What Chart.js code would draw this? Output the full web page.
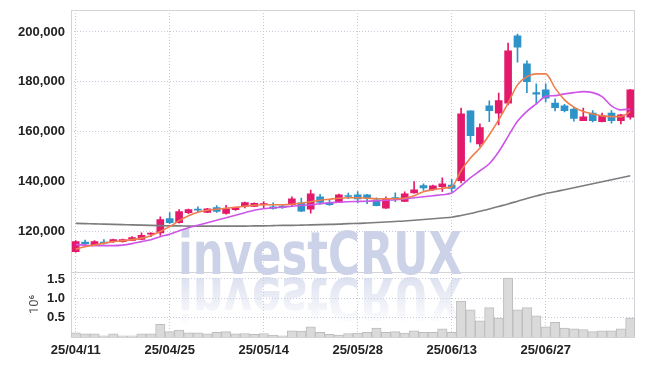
<!DOCTYPE html>
<html lang="en">
<head>
  <meta charset="UTF-8">
  <title>Candlestick with volume</title>
  <script src="https://cdn.jsdelivr.net/npm/chart.js"></script>
  <style>
    body { margin: 0; background: #fff; }
    #wrap { width: 645px; height: 366px; }
  </style>
</head>
<body>
  <div id="wrap"><canvas id="chart" width="645" height="366"></canvas></div>
  <script>
    // trading days
    const labels = [
      '25/04/11', '25/04/14', '25/04/15', '25/04/16', '25/04/17', '25/04/18',
      '25/04/21', '25/04/22', '25/04/23', '25/04/24', '25/04/25',
      '25/04/28', '25/04/29', '25/04/30', '25/05/02', '25/05/07', '25/05/08', '25/05/09',
      '25/05/12', '25/05/13', '25/05/14', '25/05/15', '25/05/16',
      '25/05/19', '25/05/20', '25/05/21', '25/05/22', '25/05/23',
      '25/05/26', '25/05/27', '25/05/28', '25/05/29', '25/05/30',
      '25/06/02', '25/06/04', '25/06/05',
      '25/06/09', '25/06/10', '25/06/11', '25/06/12', '25/06/13',
      '25/06/16', '25/06/17', '25/06/18', '25/06/19', '25/06/20',
      '25/06/23', '25/06/24', '25/06/25', '25/06/26', '25/06/27',
      '25/06/30', '25/07/01', '25/07/02', '25/07/03', '25/07/04',
      '25/07/07', '25/07/08', '25/07/09', '25/07/10'
    ];

    const open = [
      112000, 115800, 114800, 115800, 116000, 116000, 116500, 116900, 119000, 119500,
      125200, 123600, 127600, 128900, 127700, 129600, 127300, 128800, 130100, 130100,
      130800, 129900, 130200, 130800, 131600, 129000, 134000, 131500, 131700, 134500,
      134800, 134800, 132800, 129400, 133600, 132100, 135500, 138500, 136800, 138000,
      138700, 140400, 168400, 155200, 170400, 167500, 171500, 198500, 187200, 175700,
      176800, 171500, 170400, 169100, 164500, 167500, 164100, 167500, 164500, 165900
    ];
    const high = [
      116400, 116600, 116400, 116800, 117000, 117000, 118000, 119500, 119500, 125900,
      127600, 128800, 129000, 129900, 129300, 130400, 130500, 129800, 131900, 131600,
      132100, 131500, 130900, 134000, 133500, 136700, 135000, 133000, 135100, 135500,
      136100, 135000, 133600, 134000, 135600, 136000, 140100, 139200, 138700, 141600,
      141000, 169500, 168400, 163200, 172400, 175500, 195500, 199200, 188400, 179200,
      179200, 173200, 171000, 169900, 169500, 168500, 167500, 168500, 167000, 177000
    ];
    const low = [
      111800, 114800, 114400, 115000, 115600, 115800, 116400, 116800, 118000, 118500,
      123200, 123400, 127200, 128000, 127600, 127700, 127000, 128500, 129500, 130000,
      129600, 129000, 129300, 130000, 128000, 127400, 131000, 130500, 131600, 133200,
      131500, 131200, 130300, 129300, 132000, 132000, 135400, 136500, 136500, 136100,
      136000, 139500, 155900, 154100, 164100, 162800, 170800, 187900, 175700, 171200,
      172000, 168400, 168000, 164300, 164500, 164000, 164000, 163500, 163200, 165100
    ];
    const close = [
      116000, 115200, 116000, 115400, 116800, 116800, 117600, 118500, 119400, 124800,
      123600, 128000, 128800, 128600, 129100, 128100, 129100, 129600, 131700, 131300,
      131200, 129300, 129700, 133200, 128200, 135200, 131700, 130800, 134800, 134100,
      133100, 133500, 130400, 133100, 133300, 135200, 136800, 137500, 138400, 139200,
      137300, 167200, 158500, 161700, 168500, 172500, 192400, 193900, 180100, 175100,
      173500, 169700, 168500, 165400, 166000, 164500, 166500, 164500, 166800, 176800
    ];
    const volume = [
      110000, 80000, 80000, 30000, 80000, 30000, 30000, 80000, 80000, 330000,
      140000, 180000, 110000, 110000, 85000, 120000, 140000, 80000, 90000, 70000,
      90000, 50000, 30000, 160000, 150000, 260000, 120000, 70000, 50000, 90000,
      100000, 120000, 230000, 120000, 140000, 100000, 160000, 120000, 120000, 210000,
      120000, 930000, 700000, 420000, 760000, 490000, 1520000, 700000, 760000, 550000,
      260000, 380000, 230000, 210000, 190000, 140000, 160000, 160000, 210000, 490000
    ];

    // moving averages
    const maShort = [
      113000, 114000, 114600, 115400, 116000, 116400, 116800, 117400, 118400, 120100,
      122000, 124400, 126400, 127800, 128600, 129000, 129400, 129800, 130200, 130600,
      130800, 130800, 130800, 131000, 131400, 132000, 132600, 133000, 133400, 133600,
      133600, 133400, 133200, 133200, 133200, 133400, 134400, 136000, 136800, 137400,
      138000, 144400, 149500, 153500, 158800, 164800, 171500, 178800, 182100, 183200,
      183200, 177500, 172800, 169900, 168100, 167100, 166400, 166100, 166100, 168100
    ];
    const maMid = [
      114800, 114600, 114400, 114400, 114400, 114600, 115200, 116000, 116800, 118000,
      119000, 120400, 121600, 122600, 123600, 124600, 125600, 126600, 127600, 128600,
      129200, 129600, 129800, 130200, 130500, 130800, 131200, 131600, 131800, 132000,
      132100, 132200, 132400, 132600, 132800, 133100, 133600, 134000, 134400, 134800,
      135500, 138400, 141600, 144400, 147200, 152000, 158200, 164200, 168200, 171200,
      174200, 174500, 175200, 175700, 176100, 175700, 174100, 170400, 168800, 169100
    ];
    const maLong = [
      123300, 123200, 123100, 123000, 122900, 122800, 122700, 122600, 122500, 122400,
      122300, 122300, 122200, 122200, 122200, 122200, 122200, 122200, 122200, 122300,
      122300, 122400, 122500, 122500, 122600, 122700, 122800, 122900, 123000, 123200,
      123300, 123500, 123700, 123900, 124100, 124300, 124600, 124900, 125200, 125500,
      125800, 126500, 127300, 128200, 129100, 130100, 131100, 132200, 133300, 134300,
      135300, 136000, 136800, 137600, 138400, 139200, 140000, 140800, 141600, 142400
    ];

    const tickLabels = ['25/04/11', '25/04/25', '25/05/14', '25/05/28', '25/06/13', '25/06/27'];
    const priceTicks = [120000, 140000, 160000, 180000, 200000];
    const volumeTicks = [500000, 1000000, 1500000];

    const UP = '#e3196b';
    const DOWN = '#2e93c9';
    const GRID = '#c6c9dc';
    const candleColors = open.map((o, i) => close[i] >= o ? UP : DOWN);

    // frame around both panels plus the divider
    const framePlugin = {
      id: 'frame',
      beforeDatasetsDraw(chart) {
        const { ctx, chartArea: a } = chart;
        const split = chart.scales.y.bottom;
        ctx.save();
        ctx.strokeStyle = '#d4d4d8';
        ctx.lineWidth = 1;
        ctx.strokeRect(a.left + 0.5, a.top + 0.5, a.right - a.left - 1, a.bottom - a.top);
        ctx.beginPath();
        ctx.moveTo(a.left, Math.round(split) + 0.5);
        ctx.lineTo(a.right, Math.round(split) + 0.5);
        ctx.stroke();
        ctx.restore();
      }
    };

    // investCRUX watermark and its reflection
    const watermark = {
      id: 'watermark',
      beforeDatasetsDraw(chart) {
        const ctx = chart.ctx;
        const txt = 'investCRUX';
        ctx.save();
        ctx.font = 'bold 58px "DejaVu Sans", sans-serif';
        const sx = 284 / ctx.measureText(txt).width;
        ctx.textBaseline = 'alphabetic';
        ctx.save();
        ctx.translate(178, 274);
        ctx.scale(sx, 1);
        ctx.fillStyle = '#ccd2e8';
        ctx.fillText(txt, 0, 0);
        ctx.restore();
        ctx.translate(178, 276);
        ctx.scale(sx, -1);
        const g = ctx.createLinearGradient(0, -2, 0, -46);
        g.addColorStop(0, 'rgba(204,210,232,0.65)');
        g.addColorStop(1, 'rgba(204,210,232,0.05)');
        ctx.fillStyle = g;
        ctx.fillText(txt, 0, -2);
        ctx.restore();
      }
    };

    const tickFont = { family: '"Liberation Sans", Arial, sans-serif', size: 13, weight: 'bold' };

    // keep the plot box where the layout padding puts it
    const fixWidth = (s) => { s.width = 71; s.paddingTop = 0; s.paddingBottom = 0; };

    new Chart(document.getElementById('chart'), {
      type: 'bar',
      data: {
        labels: labels,
        datasets: [
          { type: 'line', label: 'MA short', data: maShort, yAxisID: 'y', borderColor: '#f07d4c', borderWidth: 1.6, pointRadius: 0, cubicInterpolationMode: 'monotone', order: 0 },
          { type: 'line', label: 'MA mid', data: maMid, yAxisID: 'y', borderColor: '#cd55e8', borderWidth: 1.6, pointRadius: 0, cubicInterpolationMode: 'monotone', order: 0 },
          { type: 'line', label: 'MA long', data: maLong, yAxisID: 'y', borderColor: '#7c7c7c', borderWidth: 1.6, pointRadius: 0, cubicInterpolationMode: 'monotone', order: 0 },
          { label: 'body', data: open.map((o, i) => [o, close[i]]), yAxisID: 'y', backgroundColor: candleColors, barThickness: 7, grouped: false, minBarLength: 1, order: 1 },
          { label: 'wick', data: low.map((l, i) => [l, high[i]]), yAxisID: 'y', backgroundColor: candleColors, barThickness: 1, grouped: false, order: 2 },
          { label: 'volume', data: volume, yAxisID: 'yv', backgroundColor: '#dadada', borderColor: '#bdbdbd', borderWidth: 1, barPercentage: 1, categoryPercentage: 1, grouped: false, order: 3 }
        ]
      },
      options: {
        responsive: false,
        animation: false,
        layout: { padding: { left: 0, right: 10, top: 10, bottom: 0 } },
        plugins: { legend: { display: false }, tooltip: { enabled: false } },
        scales: {
          x: {
            type: 'category',
            offset: true,
            grid: {
              offset: false,
              drawTicks: false,
              color: (c) => (c.tick && tickLabels.includes(c.tick.label)) ? GRID : 'rgba(0,0,0,0)'
            },
            border: { display: false, dash: [1, 2] },
            ticks: {
              autoSkip: false,
              maxRotation: 0,
              padding: 6,
              color: '#222',
              font: tickFont,
              callback: (v, i) => tickLabels.includes(labels[i]) ? labels[i] : ''
            },
            afterFit: (s) => { s.height = 29; s.paddingLeft = 0; s.paddingRight = 0; }
          },
          yv: {
            position: 'left',
            stack: 'panels',
            stackWeight: 1,
            weight: 0,
            min: 0,
            max: 1690000,
            grid: { color: GRID, drawTicks: false },
            border: { display: false, dash: [1, 2] },
            ticks: {
              autoSkip: false,
              padding: 6,
              color: '#222',
              font: tickFont,
              callback: (v) => (v / 1e6).toFixed(1)
            },
            afterBuildTicks: (s) => { s.ticks = volumeTicks.map(v => ({ value: v })); },
            title: { display: true, text: '10\u2076', color: '#555', font: { family: 'Roboto, sans-serif', size: 13 }, padding: { top: 27, bottom: 0 } },
            afterFit: fixWidth
          },
          y: {
            position: 'left',
            stack: 'panels',
            stackWeight: 4,
            weight: 1,
            min: 104000,
            max: 208800,
            grid: { color: GRID, drawTicks: false },
            border: { display: false, dash: [1, 2] },
            ticks: {
              autoSkip: false,
              padding: 6,
              color: '#222',
              font: tickFont,
              callback: (v) => v.toLocaleString('en-US')
            },
            afterBuildTicks: (s) => { s.ticks = priceTicks.map(v => ({ value: v })); },
            afterFit: fixWidth
          }
        }
      },
      plugins: [framePlugin, watermark]
    });
  </script>
</body>
</html>
